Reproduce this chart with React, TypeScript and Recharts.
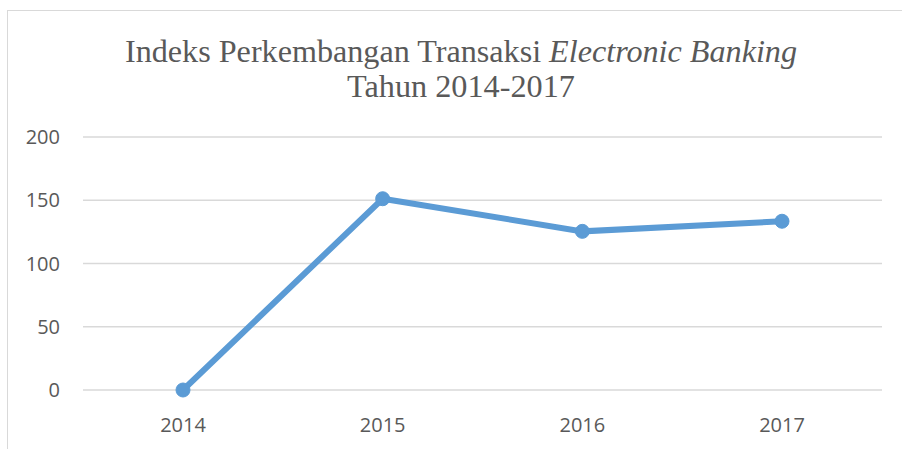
import { LineChart, Line, XAxis, YAxis, CartesianGrid } from "recharts"

const years = ["2014", "2015", "2016", "2017"]
const indeks = [0, 151.2, 125.4, 133.4]
const yTicks = [0, 50, 100, 150, 200]

const data = years.map((year, i) => ({ year, value: indeks[i] }))

const textColor = "#595959"
const lineColor = "#5B9BD5"
const serif = "Liberation Serif, DejaVu Serif, serif"

export default function App() {
  return (
    <div
      style={{
        position: "absolute",
        left: 0,
        top: 0,
        width: 902,
        height: 449,
        overflow: "hidden",
        background: "#fff",
      }}
    >
      <div
        style={{
          position: "absolute",
          left: 7,
          top: 10,
          width: 920,
          height: 460,
          border: "1px solid #d9d9d9",
          boxSizing: "border-box",
        }}
      />
      <svg
        width={902}
        height={120}
        style={{ position: "absolute", left: 0, top: 0 }}
      >
        <text
          x={461}
          y={62}
          textAnchor="middle"
          fontSize={32}
          fill={textColor}
          textLength={672}
          lengthAdjust="spacingAndGlyphs"
          style={{ fontFamily: serif }}
        >
          Indeks Perkembangan Transaksi{" "}
          <tspan style={{ fontFamily: serif, fontStyle: "italic" }}>
            Electronic Banking
          </tspan>
        </text>
        <text
          x={461}
          y={97}
          textAnchor="middle"
          fontSize={32}
          fill={textColor}
          textLength={228}
          lengthAdjust="spacingAndGlyphs"
          style={{ fontFamily: serif }}
        >
          Tahun 2014-2017
        </text>
      </svg>
      <div style={{ position: "absolute", left: 0, top: 0 }}>
        <LineChart
          width={902}
          height={449}
          data={data}
          margin={{ top: 137, right: 20, bottom: 29, left: 0 }}
        >
          <CartesianGrid vertical={false} stroke="#d9d9d9" strokeWidth={1.3} />
          <XAxis
            dataKey="year"
            height={30}
            padding={{ left: 100, right: 100 }}
            axisLine={false}
            tickLine={false}
            tickMargin={22}
            tick={{ fill: textColor, fontSize: 20, fontFamily: "'Open Sans', sans-serif" }}
          />
          <YAxis
            width={83}
            domain={[0, 200]}
            ticks={yTicks}
            axisLine={false}
            tickLine={false}
            tickMargin={17}
            tick={{ fill: textColor, fontSize: 20, fontFamily: "'Open Sans', sans-serif" }}
          />
          <Line
            type="linear"
            dataKey="value"
            stroke={lineColor}
            strokeWidth={6}
            dot={{ r: 7, fill: lineColor, stroke: lineColor, strokeWidth: 1 }}
            activeDot={false}
            isAnimationActive={false}
          />
        </LineChart>
      </div>
    </div>
  )
}
